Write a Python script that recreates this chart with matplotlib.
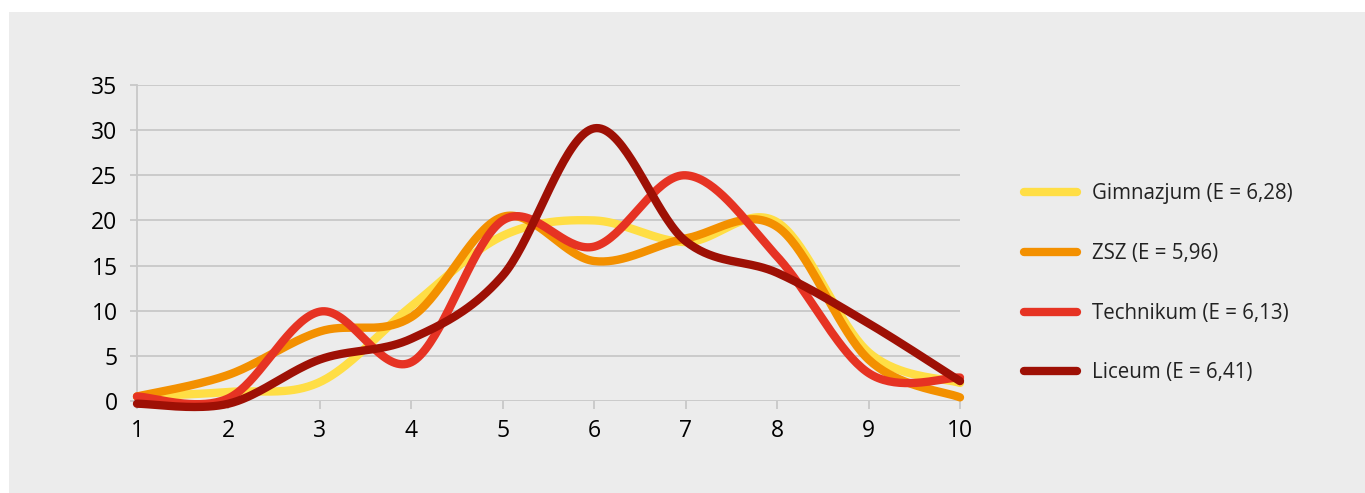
import numpy as np
import matplotlib.pyplot as plt
from matplotlib.patches import Rectangle

plt.rcParams['font.family'] = ['Open Sans', 'DejaVu Sans']

# Data
grades = [1, 2, 3, 4, 5, 6, 7, 8, 9, 10]
gimnazjum = [0.5, 1.0, 2.1, 10.5, 18.3, 20.0, 17.6, 19.8, 5.4, 2.0]
zsz = [0.5, 2.9, 7.7, 9.3, 20.4, 15.5, 18.0, 19.3, 4.6, 0.4]
technikum = [0.5, 0.3, 9.9, 4.3, 20.0, 17.1, 25.0, 16.0, 3.1, 2.6]
liceum = [-0.3, -0.3, 4.6, 6.9, 13.9, 30.2, 17.7, 14.2, 8.6, 2.2]

labels = ["Gimnazjum (E = 6,28)", "ZSZ (E = 5,96)",
          "Technikum (E = 6,13)", "Liceum (E = 6,41)"]
colors = ["#ffde45", "#f39000", "#e63323", "#9e1005"]
yticks = [0, 5, 10, 15, 20, 25, 30, 35]


def smooth(x, y, n=40):
    # Catmull-Rom style bezier smoothing (like Excel "smoothed line")
    x = np.asarray(x, float)
    y = np.asarray(y, float)
    px = np.concatenate([[x[0]], x, [x[-1]]])
    py = np.concatenate([[y[0]], y, [y[-1]]])
    t = np.linspace(0, 1, n)
    xs, ys = [], []
    for i in range(1, len(px) - 2):
        p0 = np.array([px[i], py[i]])
        p3 = np.array([px[i + 1], py[i + 1]])
        p1 = p0 + (p3 - np.array([px[i - 1], py[i - 1]])) / 6
        p2 = p3 - (np.array([px[i + 2], py[i + 2]]) - p0) / 6
        b = ((1 - t) ** 3)[:, None] * p0 + (3 * (1 - t) ** 2 * t)[:, None] * p1 \
            + (3 * (1 - t) * t ** 2)[:, None] * p2 + (t ** 3)[:, None] * p3
        xs.append(b[:, 0])
        ys.append(b[:, 1])
    return np.concatenate(xs), np.concatenate(ys)


fig = plt.figure(figsize=(13.65, 4.93), dpi=100, facecolor="white")
fig.add_artist(Rectangle((9 / 1365, 0), 1, 1 - 12 / 493, transform=fig.transFigure,
                         facecolor="#ececec", edgecolor="none", zorder=0))

ax = fig.add_axes([137 / 1365, 1 - 401 / 493, 823 / 1365, 316 / 493])
ax.set_facecolor("none")

for series, color, label in zip([gimnazjum, zsz, technikum, liceum], colors, labels):
    sx, sy = smooth(grades, series)
    ax.plot(sx, sy, color=color, lw=6, label=label, solid_capstyle="round",
            clip_on=False, zorder=3)

ax.set_xlim(1, 10)
ax.set_ylim(0, 35)
ax.set_xticks(grades)
ax.set_yticks(yticks)
ax.grid(axis="y", color="#c8c8c8", lw=1.3)
ax.set_axisbelow(True)
for side in ["top", "right", "bottom"]:
    ax.spines[side].set_visible(False)
ax.spines["left"].set_color("#c8c8c8")
ax.spines["left"].set_linewidth(1.3)
ax.tick_params(axis="y", length=5, width=1.3, color="#c8c8c8", pad=9,
               labelsize=16.5, labelcolor="black")
ax.tick_params(axis="x", length=6, width=1.3, color="#c8c8c8", pad=7,
               labelsize=16.5, labelcolor="black")

leg = fig.legend(loc="upper left", bbox_to_anchor=(1005 / 1365, 1 - 165 / 493),
                 frameon=False, fontsize=14.8, handlelength=2.6, handletextpad=0.73,
                 labelspacing=1.88)
for line in leg.get_lines():
    line.set_linewidth(6)
    line.set_solid_capstyle("round")
for text in leg.get_texts():
    text.set_color("#222222")

fig.savefig("out.png", dpi=100, facecolor="white")
